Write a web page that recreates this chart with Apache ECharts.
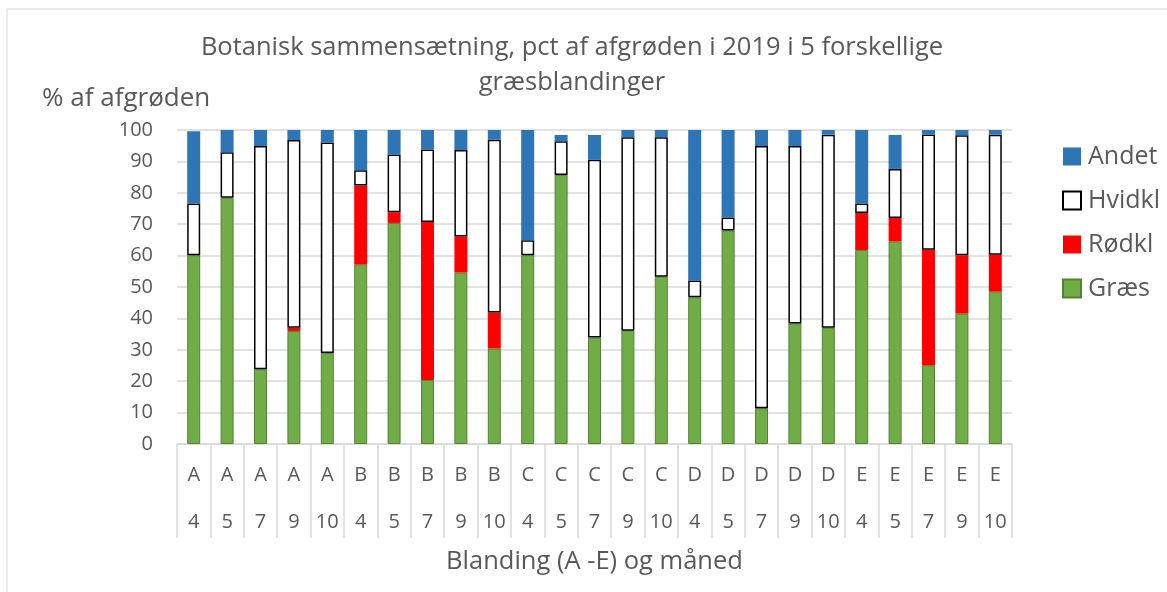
<!DOCTYPE html>
<html>
<head>
<meta charset="utf-8">
<script src="https://cdn.jsdelivr.net/npm/echarts@6/dist/echarts.min.js"></script>
<style>
  html, body { margin: 0; padding: 0; background: #fff; }
  #chart { width: 1167px; height: 592px; }
</style>
</head>
<body>
<div id="chart"></div>
<script>
// blanding og måned for hver søjle
var blends = ['A','A','A','A','A','B','B','B','B','B','C','C','C','C','C','D','D','D','D','D','E','E','E','E','E'];
var months = ['4','5','7','9','10','4','5','7','9','10','4','5','7','9','10','4','5','7','9','10','4','5','7','9','10'];

var graes  = [60.1, 78.4, 23.8, 36.0, 29.0, 57.2, 70.4, 20.4, 54.6, 30.4, 60.1, 85.7, 33.9, 36.1, 53.3, 46.7, 68.0, 11.4, 38.4, 37.0, 61.8, 64.5, 25.1, 41.5, 48.5];
var roedkl = [0, 0, 0, 1.0, 0, 25.1, 3.4, 50.3, 11.5, 11.5, 0, 0, 0, 0, 0, 0, 0, 0, 0, 0, 11.8, 7.5, 36.8, 18.6, 11.8];
var hvidkl = [16.5, 14.5, 71.1, 59.8, 67.0, 4.9, 18.4, 23.1, 27.5, 55.0, 4.8, 10.7, 56.6, 61.6, 44.4, 5.4, 4.1, 83.5, 56.5, 61.5, 3.0, 15.6, 36.7, 38.2, 38.2];
var andet  = [23.0, 7.1, 5.1, 3.2, 4.0, 12.8, 7.8, 6.2, 6.4, 3.1, 35.1, 2.0, 7.9, 2.3, 2.3, 47.9, 27.9, 5.1, 5.1, 1.5, 23.4, 10.8, 1.4, 1.7, 1.5];

var categories = blends.map(function (b, i) { return b + '|' + months[i]; });

var font = 'Open Sans';
var grey = '#595959';

var chart = echarts.init(document.getElementById('chart'));
var option = {
    backgroundColor: '#fff',
    textStyle: { fontFamily: font },
    title: [
        {
            text: 'Botanisk sammensætning, pct af afgrøden i 2019 i 5 forskellige\ngræsblandinger',
            left: 567,
            textAlign: 'center',
            top: 25,
            textStyle: { color: grey, fontSize: 25.5, fontWeight: 'normal', lineHeight: 35, fontFamily: font }
        },
        {
            text: '% af afgrøden',
            left: 37,
            top: 81,
            textStyle: { color: grey, fontSize: 26, fontWeight: 'normal', fontFamily: font }
        }
    ],
    legend: {
        orient: 'vertical',
        left: 1057,
        top: 139,
        icon: 'rect',
        itemWidth: 18,
        itemHeight: 18,
        itemGap: 19,
        data: ['Andet', 'Hvidkl', 'Rødkl', 'Græs'],
        textStyle: { color: grey, fontSize: 25, fontFamily: font, padding: [0, 0, 0, 2] }
    },
    grid: { left: 177, right: 155, top: 130, bottom: 148 },
    xAxis: {
        type: 'category',
        data: categories,
        name: 'Blanding (A -E) og måned',
        nameLocation: 'middle',
        nameGap: 105,
        nameTextStyle: { color: grey, fontSize: 25.5, fontFamily: font },
        axisLine: { lineStyle: { color: '#d9d9d9', width: 1.5 } },
        axisTick: { show: true, interval: 0, length: 94, lineStyle: { color: '#d9d9d9', width: 1.5 } },
        axisLabel: {
            interval: 0,
            margin: 8,
            formatter: function (v) {
                var p = v.split('|');
                return '{a|' + p[0] + '}\n{a|' + p[1] + '}';
            },
            rich: { a: { color: grey, fontSize: 20, lineHeight: 47, fontFamily: font } }
        }
    },
    yAxis: {
        type: 'value',
        min: 0,
        max: 100,
        interval: 10,
        axisLine: { show: false },
        axisTick: { show: false },
        axisLabel: { color: grey, fontSize: 20, margin: 24, fontFamily: font },
        splitLine: { lineStyle: { color: '#d9d9d9', width: 1.5 } }
    },
    series: [
        {
            name: 'Græs', type: 'bar', stack: 'tot', barWidth: 13, data: graes,
            itemStyle: { color: '#70ad47', borderColor: '#548235', borderWidth: 1 }
        },
        {
            name: 'Rødkl', type: 'bar', stack: 'tot', barWidth: 13, data: roedkl,
            itemStyle: { color: '#ff0000' }
        },
        {
            name: 'Hvidkl', type: 'bar', stack: 'tot', barWidth: 13, data: hvidkl,
            itemStyle: { color: '#ffffff', borderColor: '#000000', borderWidth: 1.5 }
        },
        {
            name: 'Andet', type: 'bar', stack: 'tot', barWidth: 13, data: andet,
            itemStyle: { color: '#2e75b6' }
        }
    ],
    graphic: [
        {
            type: 'rect',
            silent: true,
            shape: { x: 7, y: 9, width: 1200, height: 620 },
            style: { fill: null, stroke: '#d9d9d9', lineWidth: 1 }
        }
    ]
};
chart.setOption(option);
</script>
</body>
</html>
